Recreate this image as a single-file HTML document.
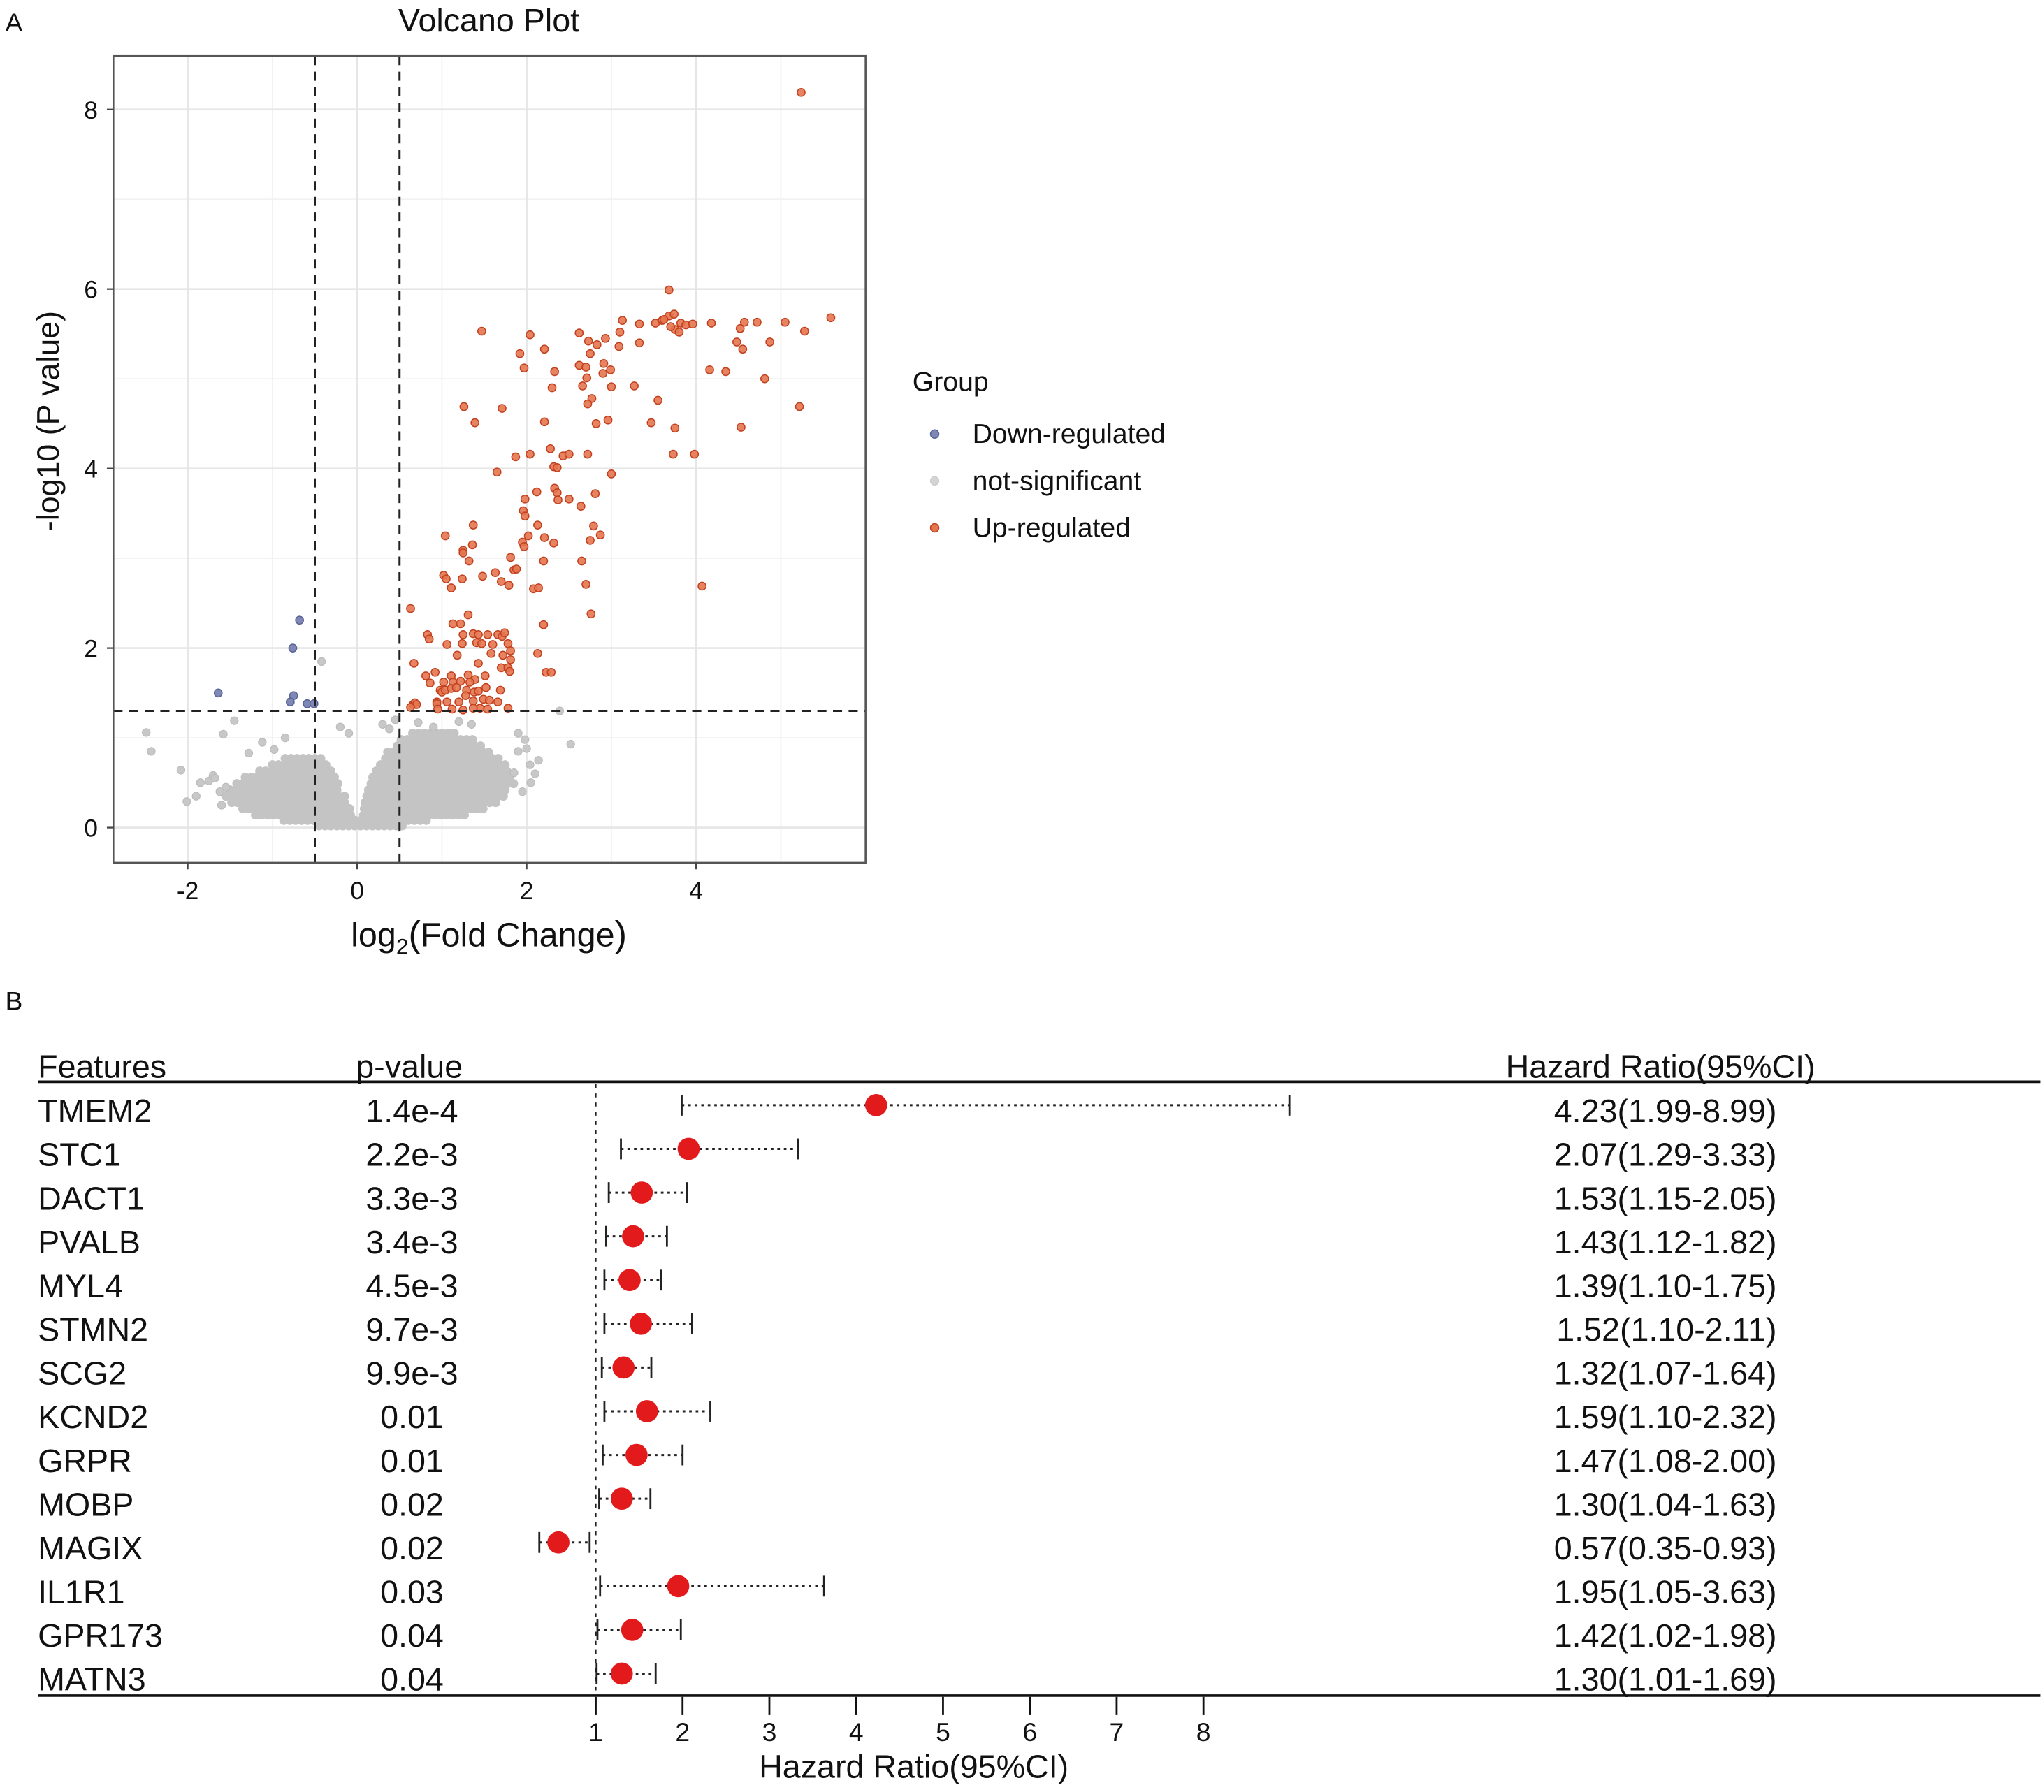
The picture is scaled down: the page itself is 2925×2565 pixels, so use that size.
<!DOCTYPE html>
<html><head><meta charset="utf-8"><style>
html,body{margin:0;padding:0;background:#fff}
svg{display:block}
text{font-family:"Liberation Sans",Arial,sans-serif;fill:#111}
</style></head><body>
<svg id="fig" xmlns="http://www.w3.org/2000/svg" width="2925" height="2565" viewBox="0 0 1568 1375">
<rect x="0" y="0" width="1568" height="1375" fill="#fff"/>
<g id="volcano"></g>
<g id="forest"></g>
</svg>
<script>
// ---------- Volcano data ----------
const upX = [5.24,3.68,1.47,2.04,1.92,1.97,2.21,2.33,2.30,2.62,2.73,2.83,2.93,2.75,2.62,2.70,2.71,2.91,2.90,2.99,3.09,3.13,3.10,3.33,3.33,3.00,2.66,2.77,2.72,3.27,3.55,3.47,3.75,3.73,3.98,4.07,3.52,3.60,3.68,3.74,3.82,3.88,3.96,3.75,3.80,3.62,3.70,4.18,4.16,4.35,4.48,4.52,4.55,4.57,4.72,4.87,4.81,4.53,5.05,5.22,5.28,5.59,1.26,1.39,1.71,1.65,1.87,2.04,2.21,2.28,2.43,2.50,2.72,2.82,2.96,3.00,2.32,2.36,2.33,2.36,2.37,2.50,2.64,2.81,1.98,1.96,1.98,2.12,2.13,1.37,1.04,1.25,1.25,1.36,1.32,2.02,1.95,1.97,2.21,2.32,2.79,2.87,2.75,1.81,2.20,2.65,1.02,1.05,1.11,1.24,1.48,1.63,1.70,1.79,1.85,1.88,2.08,2.14,2.70,2.76,0.63,1.31,1.13,1.22,2.20,0.83,0.85,1.25,1.37,1.43,1.54,1.60,1.66,1.71,1.74,1.78,1.24,1.06,1.41,1.47,1.58,1.72,1.81,1.81,2.13,1.18,1.43,0.67,1.70,1.78,1.80,2.23,2.29,0.92,0.81,0.86,1.11,1.31,1.39,1.51,1.02,1.13,1.22,1.33,0.98,1.00,1.04,1.11,1.17,1.29,1.38,1.43,1.52,1.69,0.94,1.06,1.20,1.28,1.37,1.49,1.56,0.94,0.66,0.68,0.70,0.63,1.45,1.66,1.78,0.95,1.12,1.25,1.37,1.54];
const upY = [8.19,5.99,5.53,5.49,5.28,5.12,5.33,5.08,4.90,5.51,5.42,5.38,5.45,5.28,5.15,5.13,5.01,5.17,5.06,5.10,5.36,5.65,5.52,5.61,5.40,4.91,4.92,4.78,4.72,4.92,4.76,4.51,4.45,4.16,4.16,2.69,5.62,5.65,5.70,5.72,5.62,5.60,5.61,5.55,5.52,5.66,5.58,5.62,5.10,5.08,5.41,5.56,5.33,5.63,5.63,5.41,5.00,4.46,5.63,4.69,5.53,5.68,4.69,4.51,4.67,3.96,4.13,4.16,4.52,4.22,4.14,4.16,4.16,4.50,4.54,3.94,4.02,4.01,3.78,3.73,3.65,3.66,3.58,3.72,3.66,3.53,3.47,3.74,3.37,3.37,3.25,3.09,3.06,3.15,2.97,3.25,3.18,3.13,3.23,3.17,3.36,3.26,3.20,3.01,2.97,2.97,2.81,2.77,2.67,2.77,2.80,2.84,2.74,2.70,2.87,2.88,2.66,2.67,2.71,2.38,2.44,2.37,2.27,2.27,2.26,2.15,2.10,2.15,2.16,2.15,2.15,2.04,2.15,2.13,2.17,2.05,2.05,2.04,2.06,2.05,1.94,1.92,1.97,1.87,1.94,1.92,1.83,1.83,1.78,1.78,1.74,1.73,1.73,1.73,1.69,1.61,1.69,1.70,1.65,1.69,1.62,1.62,1.63,1.62,1.53,1.51,1.53,1.55,1.56,1.53,1.51,1.52,1.56,1.53,1.40,1.40,1.40,1.47,1.41,1.43,1.42,1.38,1.37,1.39,1.37,1.34,1.33,1.40,1.33,1.32,1.32,1.31,1.33,1.32];
const downX = [-0.68,-0.76,-1.64,-0.75,-0.79,-0.59,-0.51];
const downY = [2.31,2.00,1.50,1.47,1.40,1.38,1.38];
const grayOutX = [-0.42,-2.49,-2.43,-1.45,-1.58,-2.08,-2.01,-1.85,-1.75,-1.62,-1.9,-1.7,2.52,2.39,1.98,2.04,2.14,1.85,2.05,1.9,-0.85,-0.98,-1.12,-1.28,-0.2,-0.1,0.3,0.38,0.45,1.9,2.0,-1.6,-1.55,-1.68,1.95,2.1,1.2,1.35,0.9,0.72];
const grayOutY = [1.85,1.06,0.85,1.19,1.04,0.64,0.29,0.50,0.52,0.40,0.35,0.58,0.93,1.30,0.98,0.70,0.75,0.61,0.50,1.05,1.0,0.87,0.95,0.83,1.12,1.05,1.15,1.10,1.20,0.85,0.88,0.25,0.45,0.55,0.40,0.60,1.18,1.15,1.12,1.17];
// density bands of the not-significant cloud: [y, xStart, xEnd]
const grayBands = [[0.02,-0.45,0.55],[0.08,-0.9,0.85],[0.14,-1.2,-0.04],[0.14,0.04,1.3],[0.21,-1.35,-0.07],[0.21,0.05,1.5],[0.28,-1.48,-0.1],[0.28,0.06,1.65],[0.35,-1.55,-0.14],[0.35,0.08,1.75],[0.42,-1.5,-0.18],[0.42,0.1,1.8],[0.49,-1.42,-0.22],[0.49,0.13,1.85],[0.56,-1.32,-0.25],[0.56,0.15,1.85],[0.63,-1.15,-0.28],[0.63,0.19,1.8],[0.70,-1.0,-0.33],[0.70,0.24,1.75],[0.77,-0.85,-0.42],[0.77,0.3,1.68],[0.84,0.36,1.58],[0.91,0.44,1.5],[0.98,0.52,1.38],[1.05,0.62,1.2]];
const xTicks = [-2,0,2,4];
const yTicks = [0,2,4,6,8];
const xMinor = [-1,1,3,5];
const yMinor = [1,3,5,7];

// ---------- Forest data ----------
const features = ["TMEM2","STC1","DACT1","PVALB","MYL4","STMN2","SCG2","KCND2","GRPR","MOBP","MAGIX","IL1R1","GPR173","MATN3"];
const pvals = ["1.4e-4","2.2e-3","3.3e-3","3.4e-3","4.5e-3","9.7e-3","9.9e-3","0.01","0.01","0.02","0.02","0.03","0.04","0.04"];
const hr = [4.23,2.07,1.53,1.43,1.39,1.52,1.32,1.59,1.47,1.30,0.57,1.95,1.42,1.30];
const lo = [1.99,1.29,1.15,1.12,1.10,1.10,1.07,1.10,1.08,1.04,0.35,1.05,1.02,1.01];
const hi = [8.99,3.33,2.05,1.82,1.75,2.11,1.64,2.32,2.00,1.63,0.93,3.63,1.98,1.69];
const hrTicks = [1,2,3,4,5,6,7,8];

const NS="http://www.w3.org/2000/svg";
function mk(tag, attrs, parent, txt){const e=document.createElementNS(NS,tag);for(const k in attrs)e.setAttribute(k,attrs[k]);if(txt!==undefined)e.textContent=txt;parent.appendChild(e);return e;}

// ---------- Volcano ----------
const V=document.getElementById('volcano');
const L=87,R=664,T=43,B=662;
const xs=v=>274+65*v, ys=v=>635-68.875*v;
let t;
t=mk('text',{x:4,y:24,'font-size':20},V,'A');


t=mk('text',{x:375,y:24,'font-size':25,'text-anchor':'middle'},V,'Volcano Plot');


const grid=mk('g',{},V);


xMinor.forEach(v=>mk('line',{x1:xs(v),x2:xs(v),y1:T,y2:B,stroke:'#f2f2f2','stroke-width':1},grid));
yMinor.forEach(v=>mk('line',{x1:L,x2:R,y1:ys(v),y2:ys(v),stroke:'#f2f2f2','stroke-width':1},grid));
xTicks.forEach(v=>mk('line',{x1:xs(v),x2:xs(v),y1:T,y2:B,stroke:'#e6e6e6','stroke-width':1.4},grid));
yTicks.forEach(v=>mk('line',{x1:L,x2:R,y1:ys(v),y2:ys(v),stroke:'#e6e6e6','stroke-width':1.4},grid));

const pts=mk('g',{},V);


const step=0.07;
grayBands.forEach((b,i)=>{
  const off=(i%2)*step/2;
  for(let x=b[1]+off;x<=b[2]+1e-9;x+=step){
    const c=mk('circle',{cx:xs(x),cy:ys(b[0]),r:3.5,fill:'#c4c4c4'},pts);
    
    
  }
});
grayOutX.forEach((x,i)=>{
  const c=mk('circle',{cx:xs(x),cy:ys(grayOutY[i]),r:3,fill:'#c8c8c8',stroke:'#bbb','stroke-width':0.6},pts);
  
  
});
downX.forEach((x,i)=>{
  const c=mk('circle',{cx:xs(x),cy:ys(downY[i]),r:3,fill:'#7f88b5',stroke:'#5a6399','stroke-width':0.8},pts);
  
  
});
upX.forEach((x,i)=>{
  const c=mk('circle',{cx:xs(x),cy:ys(upY[i]),r:3,fill:'#e4754f','fill-opacity':0.9,stroke:'#c2401e','stroke-width':0.8},pts);
  
  
});
[-0.5,0.5].forEach(v=>{
  const l=mk('line',{x1:xs(v),x2:xs(v),y1:T,y2:B,stroke:'#222','stroke-width':1.6,'stroke-dasharray':'7,5'},V);
  
  
});
t=mk('line',{x1:L,x2:R,y1:ys(1.3),y2:ys(1.3),stroke:'#222','stroke-width':1.6,'stroke-dasharray':'7,5'},V);


t=mk('rect',{x:L,y:T,width:R-L,height:B-T,fill:'none',stroke:'#555','stroke-width':1.4},V);


const xa=mk('g',{},V);


xTicks.forEach(v=>{
  mk('line',{x1:xs(v),x2:xs(v),y1:B,y2:B+5,stroke:'#444','stroke-width':1.2},xa);
  const tt=mk('text',{x:xs(v),y:B+28,'font-size':19,'text-anchor':'middle',fill:'#333'},xa,v<0?'-'+Math.abs(v):String(v));
  
  
});
const ya=mk('g',{},V);


yTicks.forEach(v=>{
  mk('line',{x1:L-5,x2:L,y1:ys(v),y2:ys(v),stroke:'#444','stroke-width':1.2},ya);
  const tt=mk('text',{x:L-12,y:ys(v)+7,'font-size':19,'text-anchor':'end',fill:'#333'},ya,String(v));
  
  
});
t=mk('text',{x:0,y:0,'font-size':24,'text-anchor':'middle',transform:'translate(45,323) rotate(-90)'},V,'-log10 (P value)');


t=mk('text',{x:375,y:726,'font-size':26,'text-anchor':'middle'},V);


t.innerHTML='log<tspan font-size="17" dy="6">2</tspan><tspan dy="-6" font-size="28">(</tspan>Fold Change<tspan font-size="28">)</tspan>';
const lg=mk('g',{},V);


mk('text',{x:700,y:300,'font-size':21},lg,'Group');
const legItems=[['Down-regulated','#7f88b5','#5a6399',333],['not-significant','#d4d4d4','#cfcfcf',369],['Up-regulated','#e4754f','#c2401e',405]];
legItems.forEach(it=>{
  const g=mk('g',{},lg);
  
  
  mk('circle',{cx:717,cy:it[3],r:3.2,fill:it[1],stroke:it[2],'stroke-width':0.8},g);
  mk('text',{x:746,y:it[3]+7,'font-size':21},g,it[0]);
});

// ---------- Forest ----------
const F=document.getElementById('forest');
const hx=v=>457+66.6*(v-1);
const rowY=i=>852+33.55*i;
t=mk('text',{x:4,y:775,'font-size':20},F,'B');


[['Features',29,'start','features-header'],['p-value',273,'start','p-value-header'],['Hazard Ratio(95%CI)',1155,'start','hr-header']].forEach(h=>{
  const e=mk('text',{x:h[1],y:827,'font-size':25,'text-anchor':h[2]},F,h[0]);
  
  
});
t=mk('line',{x1:29,x2:1565,y1:830,y2:830,stroke:'#111','stroke-width':2},F);


t=mk('line',{x1:29,x2:1565,y1:1301,y2:1301,stroke:'#111','stroke-width':2},F);


t=mk('line',{x1:hx(1),x2:hx(1),y1:832,y2:1300,stroke:'#222','stroke-width':1.2,'stroke-dasharray':'3,4'},F);


features.forEach((f,i)=>{
  const y=rowY(i);
  const g=mk('g',{},F);
  
  
  mk('text',{x:29,y:y+9,'font-size':25},g,f);
  mk('text',{x:316,y:y+9,'font-size':25,'text-anchor':'middle'},g,pvals[i]);
  mk('text',{x:1363,y:y+9,'font-size':25,'text-anchor':'end'},g,hr[i].toFixed(2)+'('+lo[i].toFixed(2)+'-'+hi[i].toFixed(2)+')');
  mk('line',{x1:hx(lo[i]),x2:hx(hi[i]),y1:y-4,y2:y-4,stroke:'#222','stroke-width':1.6,'stroke-dasharray':'2,3'},g);
  mk('line',{x1:hx(lo[i]),x2:hx(lo[i]),y1:y-12,y2:y+4,stroke:'#222','stroke-width':1.5},g);
  mk('line',{x1:hx(hi[i]),x2:hx(hi[i]),y1:y-12,y2:y+4,stroke:'#222','stroke-width':1.5},g);
  const d=mk('circle',{cx:hx(hr[i]),cy:y-4,r:8.5,fill:'#e31a1c'},g);
  
  
});
const fa=mk('g',{},F);


hrTicks.forEach(v=>{
  mk('line',{x1:hx(v),x2:hx(v),y1:1302,y2:1316,stroke:'#111','stroke-width':1.5},fa);
  const tt=mk('text',{x:hx(v),y:1336,'font-size':20,'text-anchor':'middle'},fa,String(v));
  
  
});
t=mk('text',{x:701,y:1364,'font-size':25,'text-anchor':'middle'},F,'Hazard Ratio(95%CI)');


</script>
</body></html>
